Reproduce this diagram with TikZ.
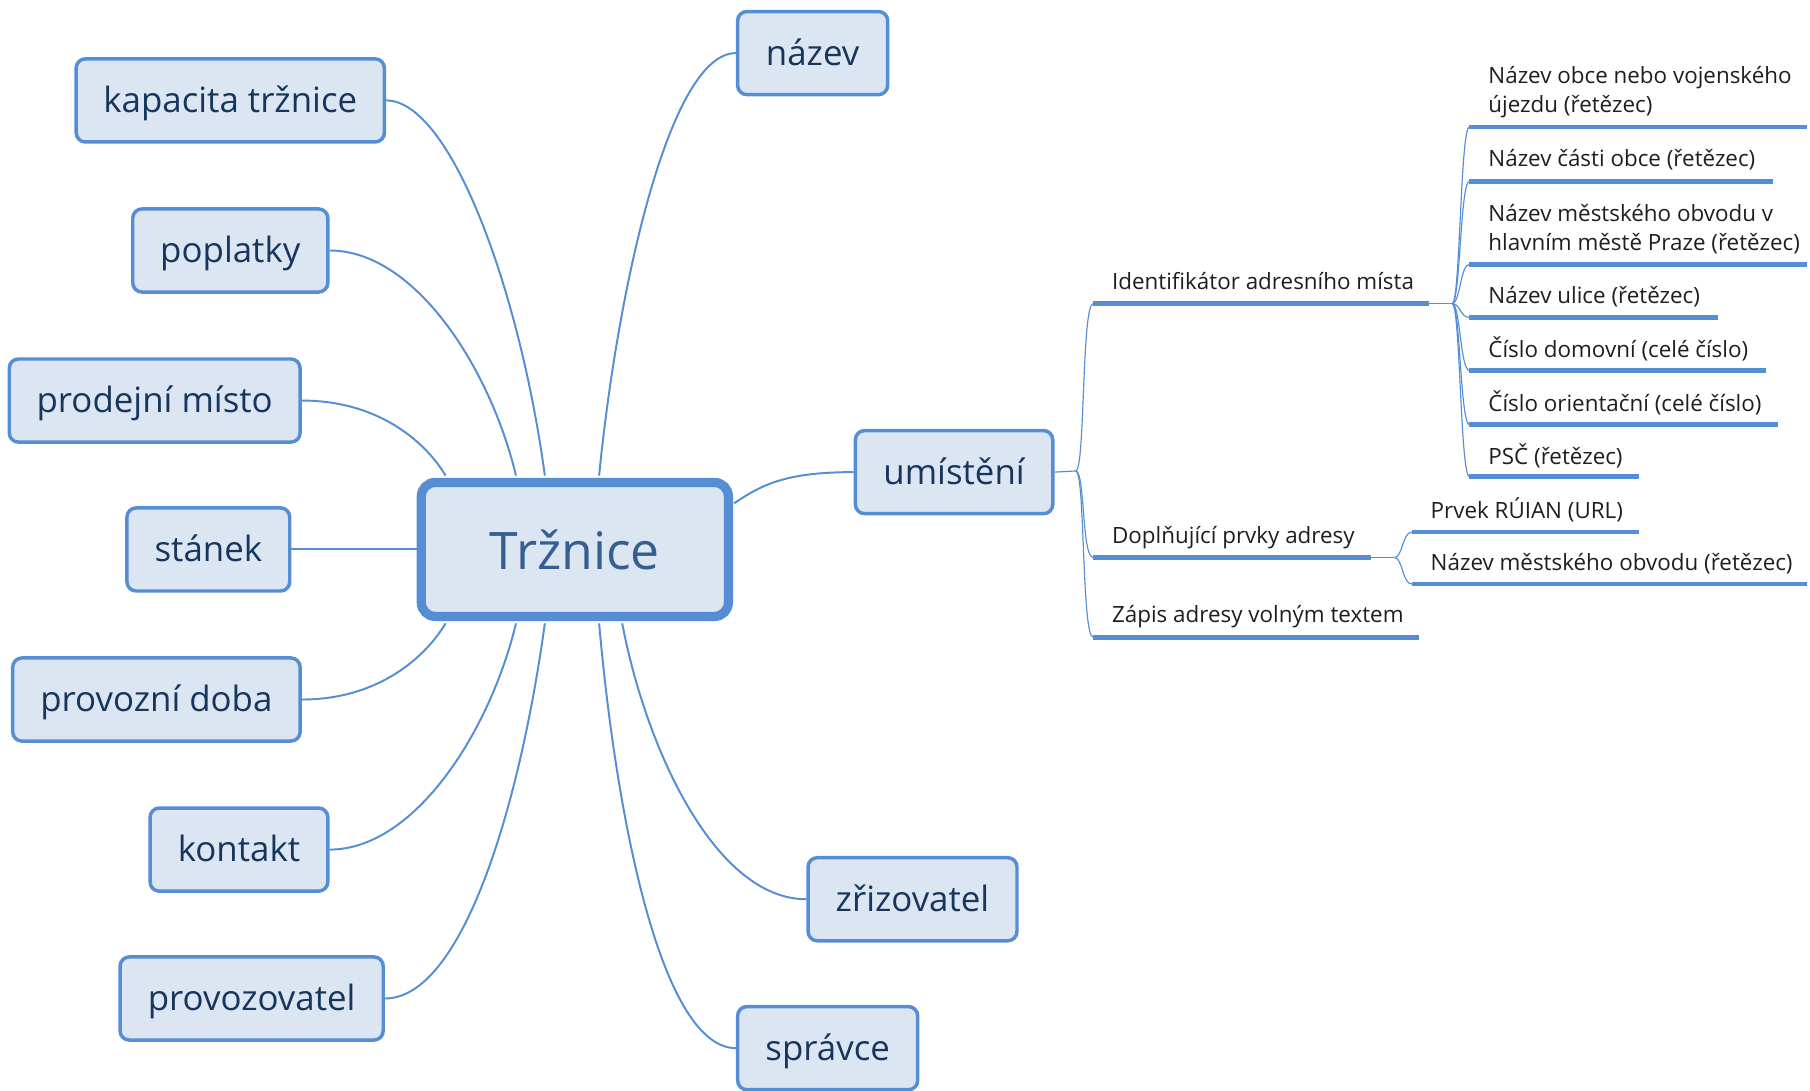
\documentclass[tikz,border=0pt]{standalone}
\usepackage{fontspec}
\setmainfont{Open Sans}
\definecolor{bord}{RGB}{85,142,213}
\definecolor{fillc}{RGB}{220,230,242}
\definecolor{navy}{RGB}{23,54,93}
\definecolor{ctext}{RGB}{54,95,145}
\definecolor{stext}{RGB}{30,30,30}
\begin{document}
\begin{tikzpicture}[x=0.5pt,y=-0.5pt,
  box/.style={draw=bord, line width=1.5pt, fill=fillc, rounded corners=4pt, text=navy,
    font=\fontsize{15.1}{18}\selectfont, inner sep=0pt, minimum height=36pt, text depth=1pt},
  central/.style={draw=bord, line width=4pt, fill=fillc, rounded corners=6pt, text=ctext,
    font=\fontsize{22.4}{26}\selectfont, inner sep=0pt, minimum width=133pt, minimum height=58pt},
  conn/.style={draw=bord, line width=0.85pt},
  thin/.style={draw=bord, line width=0.5pt},
  uline/.style={draw=bord, line width=2pt},
  leaf/.style={anchor=south west, inner sep=0pt, text depth=0pt, align=left,
    font=\fontsize{9.7}{12.5}\selectfont, text=stext}]
\useasboundingbox (0,0) rectangle (1568,945);

% central
\node[central] (c) at (498,476) {Tržnice};

% children
\node[box, minimum width=65pt] (nazev) at (704,46) {název};
\node[box, minimum width=133.5pt] (kap) at (199.5,87) {kapacita tržnice};
\node[box, minimum width=84.5pt] (popl) at (199.5,217) {poplatky};
\node[box, minimum width=126pt] (prod) at (134,347) {prodejní místo};
\node[box, minimum width=70.5pt] (stan) at (180.5,476) {stánek};
\node[box, minimum width=124.5pt] (pdoba) at (135.5,606) {provozní doba};
\node[box, minimum width=77pt] (kont) at (207,736) {kontakt};
\node[box, minimum width=114pt] (provoz) at (218,865) {provozovatel};
\node[box, minimum width=85.5pt] (umist) at (826.5,409) {umístění};
\node[box, minimum width=90.5pt] (zriz) at (790.5,779) {zřizovatel};
\node[box, minimum width=78pt] (sprav) at (717,908) {správce};

% connectors from central
\path[conn] (kap.east) .. controls (390,87) and (450,250) .. (472,412);
\path[conn] (popl.east) .. controls (360,217) and (425,320) .. (447,412);
\path[conn] (prod.east) .. controls (330,347) and (370,385) .. (386,412);
\path[conn] (stan.east) -- (c.west);
\path[conn] (pdoba.east) .. controls (330,606) and (370,567) .. (386,540);
\path[conn] (kont.east) .. controls (360,736) and (425,632) .. (447,540);
\path[conn] (provoz.east) .. controls (400,865) and (450,700) .. (472,540);
\path[conn] (nazev.west) .. controls (580,46) and (535,250) .. (519,412);
\path[conn] (zriz.west) .. controls (620,779) and (560,650) .. (539,540);
\path[conn] (sprav.west) .. controls (575,908) and (535,720) .. (519,540);
\path[conn] (umist.west) .. controls (680,409) and (660,420) .. (636,436);

% level 2 under umístění
\coordinate (j0) at (932,408);
\path[thin] (umist.east) -- (j0);

\coordinate (a1s) at (947,263); \coordinate (a1e) at (1238,263);
\coordinate (a2s) at (947,483); \coordinate (a2e) at (1188,483);
\coordinate (a3s) at (947,552); \coordinate (a3e) at (1229,552);
\node[leaf] (ida) at (963,251.5) {Identifikátor adresního místa};
\node[leaf] (dop) at (963,471) {Doplňující prvky adresy};
\node[leaf] (zap) at (963,540) {Zápis adresy volným textem};
\path[uline] (a1s) -- (a1e);
\path[uline] (a2s) -- (a2e);
\path[uline] (a3s) -- (a3e);
\path[thin] (j0) .. controls (940,408) and (937,263) .. (a1s);
\path[thin] (j0) .. controls (940,408) and (937,483) .. (a2s);
\path[thin] (j0) .. controls (940,408) and (937,552) .. (a3s);

% level 3 under Identifikátor
\coordinate (j1) at (1258,263);
\path[thin] (a1e) -- (j1);
\foreach \n/\y/\xe in {1/110/1565, 2/157/1536, 3/229/1565, 4/275/1488, 5/321/1530, 6/368/1540, 7/413/1420}{
  \coordinate (b\n s) at (1273,\y);
  \coordinate (b\n e) at (\xe,\y);
  \path[uline] (b\n s) -- (b\n e);
  \path[thin] (j1) .. controls (1265,263) and (1265,\y) .. (b\n s);
}
\node[leaf] (t1) at (1289,98) {Název obce nebo vojenského\\újezdu (řetězec)};
\node[leaf] (t2) at (1289,145) {Název části obce (řetězec)};
\node[leaf] (t3) at (1289,217) {Název městského obvodu v\\hlavním městě Praze (řetězec)};
\node[leaf] (t4) at (1289,263.5) {Název ulice (řetězec)};
\node[leaf] (t5) at (1289,310) {Číslo domovní (celé číslo)};
\node[leaf] (t6) at (1289,357) {Číslo orientační (celé číslo)};
\node[leaf] (t7) at (1289,402.5) {PSČ (řetězec)};

% level 3 under Doplňující
\coordinate (j2) at (1208,483);
\path[thin] (a2e) -- (j2);
\foreach \n/\y/\xe in {1/461/1420, 2/506/1565}{
  \coordinate (d\n s) at (1223,\y);
  \coordinate (d\n e) at (\xe,\y);
  \path[uline] (d\n s) -- (d\n e);
  \path[thin] (j2) .. controls (1215,483) and (1215,\y) .. (d\n s);
}
\node[leaf] (r1) at (1239,449.5) {Prvek RÚIAN (URL)};
\node[leaf] (r2) at (1239,494.5) {Název městského obvodu (řetězec)};
\end{tikzpicture}
\end{document}
